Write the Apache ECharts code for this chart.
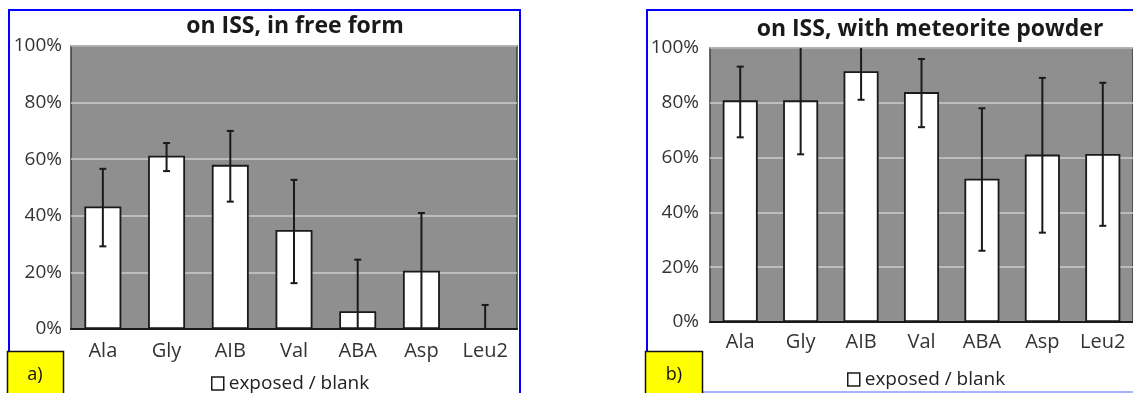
<!DOCTYPE html>
<html>
<head>
<meta charset="utf-8">
<script src="https://cdn.jsdelivr.net/npm/echarts@6/dist/echarts.min.js"></script>
<style>
html,body{margin:0;padding:0;background:#fff;}
#c{width:1133px;height:393px;}
</style>
</head>
<body>
<div id="c"></div>
<script>
// ---- data ----
const categories = ['Ala', 'Gly', 'AIB', 'Val', 'ABA', 'Asp', 'Leu2'];
const yTicks = [0, 20, 40, 60, 80, 100];
const titleA = 'on ISS, in free form';
const titleB = 'on ISS, with meteorite powder';
const seriesName = 'exposed / blank';
// panel a: in free form
const valuesA  = [43.3, 61.2, 58.0, 35.0, 6.3, 20.6, 0];
const errHighA = [56.6, 65.7, 70.0, 52.7, 24.5, 41.0, 8.5];
const errLowA  = [29.2, 55.8, 45.0, 16.2, 0, 0, 0];
// panel b: with meteorite powder
const valuesB  = [80.9, 80.9, 91.5, 83.9, 52.3, 61.1, 61.3];
const errHighB = [93.2, 100.6, 101.9, 96.0, 78.0, 89.1, 87.3];
const errLowB  = [67.4, 61.2, 81.1, 71.1, 26.0, 32.6, 35.1];

const FONT = 'Open Sans';
const chart = echarts.init(document.getElementById('c'), null, {renderer: 'canvas'});

function errData(hi, lo) {
  return categories.map((c, i) => [i, hi[i], lo[i]]);
}
function renderErr(params, api) {
  const x = api.value(0);
  const hi = Math.min(api.value(1), yTicks[yTicks.length - 1]);
  const lo = Math.max(api.value(2), yTicks[0]);
  const pHi = api.coord([x, hi]);
  const pLo = api.coord([x, lo]);
  const cap = 3.5;
  const st = {stroke: '#1a1a1a', lineWidth: 2};
  const children = [{type: 'line', shape: {x1: pLo[0], y1: pLo[1], x2: pHi[0], y2: pHi[1]}, style: st}];
  if (api.value(1) < 100) children.push({type: 'line', shape: {x1: pHi[0]-cap, y1: pHi[1], x2: pHi[0]+cap, y2: pHi[1]}, style: st});
  if (api.value(2) > 0) children.push({type: 'line', shape: {x1: pLo[0]-cap, y1: pLo[1], x2: pLo[0]+cap, y2: pLo[1]}, style: st});
  return {type: 'group', children};
}

function xAxis(gi) {
  return {
    type: 'category', gridIndex: gi, data: categories,
    axisTick: {show: false},
    axisLine: {lineStyle: {color: '#1a1a1a', width: 2}},
    axisLabel: {fontFamily: FONT, fontSize: 20, color: '#333', margin: gi === 0 ? 12 : 10}
  };
}
function yAxis(gi) {
  return {
    type: 'value', gridIndex: gi, min: yTicks[0], max: yTicks[yTicks.length - 1], interval: 20,
    axisLine: {show: false}, axisTick: {show: false},
    splitLine: {lineStyle: {color: '#cdcdcd', width: 1.5}},
    axisLabel: {fontFamily: FONT, fontSize: 19, color: '#333', margin: gi === 0 ? 9 : 11,
      formatter: v => v + '%'}
  };
}
function barSeries(gi, vals) {
  return {
    type: 'bar', name: seriesName, xAxisIndex: gi, yAxisIndex: gi, data: vals,
    barWidth: '58%',
    itemStyle: {color: '#ffffff', borderColor: '#1a1a1a', borderWidth: 1.8},
    emphasis: {disabled: true}, z: 2
  };
}
function errSeries(gi, hi, lo) {
  return {
    type: 'custom', xAxisIndex: gi, yAxisIndex: gi, data: errData(hi, lo),
    renderItem: renderErr, z: 5, silent: true
  };
}
function legend(left, top) {
  return {
    data: [seriesName], left, top, icon: 'rect', itemWidth: 12, itemHeight: 13, itemGap: 4,
    selectedMode: false,
    itemStyle: {color: '#fff', borderColor: '#1a1a1a', borderWidth: 1.5},
    textStyle: {fontFamily: FONT, fontSize: 19, color: '#222', padding: [0, 0, 0, 0]}
  };
}

const gridStyle = {show: true, backgroundColor: '#8f8f8f', borderColor: '#3c3c3c', borderWidth: 1.5, containLabel: false};

chart.setOption({
  animation: false,
  title: [
    {text: titleA, left: 290, top: 10, textAlign: 'center',
     textStyle: {fontFamily: FONT, fontWeight: 'bold', fontSize: 23, color: '#1a1a1a'}},
    {text: titleB, left: 925, top: 13, textAlign: 'center',
     textStyle: {fontFamily: FONT, fontWeight: 'bold', fontSize: 23, color: '#1a1a1a'}}
  ],
  legend: [legend(206, 369), legend(842, 365)],
  grid: [
    Object.assign({left: 71, top: 46, width: 446, height: 283}, gridStyle),
    Object.assign({left: 710, top: 48, width: 428, height: 274}, gridStyle)
  ],
  xAxis: [xAxis(0), xAxis(1)],
  yAxis: [yAxis(0), yAxis(1)],
  series: [
    barSeries(0, valuesA), errSeries(0, errHighA, errLowA),
    barSeries(1, valuesB), errSeries(1, errHighB, errLowB)
  ],
  graphic: [
    {type: 'rect', shape: {x: 9, y: 10, width: 511, height: 400}, style: {fill: 'none', stroke: '#0000ff', lineWidth: 2}, z: 10},
    {type: 'rect', shape: {x: 647, y: 10, width: 500, height: 382}, style: {fill: 'none', stroke: '#0000ff', lineWidth: 2}, z: 10},
    {type: 'line', shape: {x1: 647, y1: 392, x2: 1133, y2: 392}, style: {stroke: '#aab0ff', lineWidth: 2}, z: 11},
    {type: 'rect', shape: {x: 7.5, y: 351.5, width: 56, height: 45}, style: {fill: '#ffff00', stroke: '#111', lineWidth: 1.5}, z: 12},
    {type: 'text', x: 35, y: 375, style: {text: 'a)', fontFamily: FONT, fontSize: 18, fill: '#111', align: 'center', verticalAlign: 'middle'}, z: 13},
    {type: 'rect', shape: {x: 645.5, y: 351.5, width: 57, height: 45}, style: {fill: '#ffff00', stroke: '#111', lineWidth: 1.5}, z: 12},
    {type: 'text', x: 674, y: 375, style: {text: 'b)', fontFamily: FONT, fontSize: 18, fill: '#111', align: 'center', verticalAlign: 'middle'}, z: 13}
  ]
});
</script>
</body>
</html>
